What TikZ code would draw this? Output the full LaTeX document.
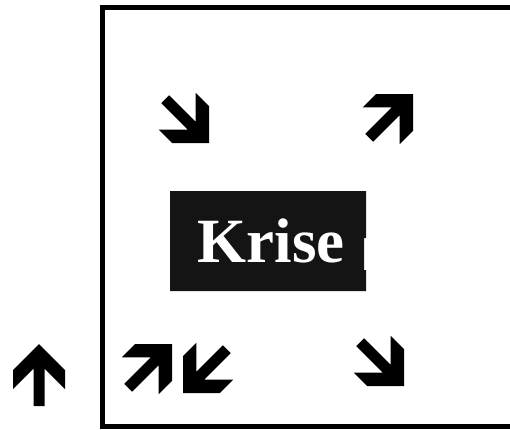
\documentclass[tikz,border=0pt]{standalone}
\usepackage{fontspec}
\setmainfont{Liberation Serif}
\tikzset{
  frame/.style={line width=5pt, line join=miter},
  pics/bigarrow/.style={code={
    \fill[black] (0,0) -- (26,26) -- (26,45) -- (5.5,24.5) -- (5.5,62)
      -- (-5.5,62) -- (-5.5,24.5) -- (-26,45) -- (-26,26) -- cycle;
  }}
}
\begin{document}
\begin{tikzpicture}[x=1pt,y=-1pt]
\useasboundingbox (0,0) rectangle (510,429);
% frame
\draw[frame] (510,7.5) -- (102.5,7.5) -- (102.5,426) -- (510,426);
% Krise box
\fill[black!92] (170,191) -- (366,191) -- (366,238) -- (364,238) -- (364,270) -- (366,270) -- (366,291) -- (170,291) -- cycle;
\node[anchor=base, text=white, inner sep=0pt, font=\bfseries\fontsize{63}{63}\selectfont] (krise) at (271,262) {Krise};
% arrows (tip position, rotation)
\pic[rotate=-135] (a1) at (209,143) {bigarrow};
\pic[rotate=-45] (a2) at (413,94) {bigarrow};
\pic[rotate=-45] (a3) at (172,344) {bigarrow};
\pic[rotate=135] (a4) at (183,393) {bigarrow};
\pic[rotate=-135] (a5) at (404,386) {bigarrow};
\pic (a6) at (39,344) {bigarrow};
\end{tikzpicture}
\end{document}
